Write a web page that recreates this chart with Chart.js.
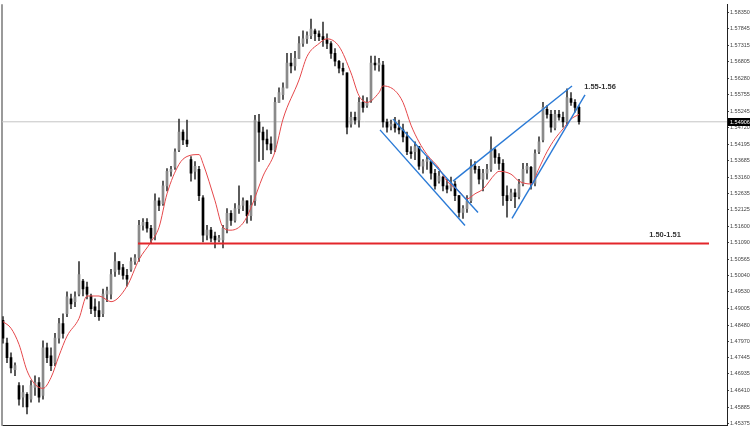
<!DOCTYPE html>
<html><head><meta charset="utf-8">
<script src="https://cdn.jsdelivr.net/npm/chart.js@4/dist/chart.umd.min.js"></script>
<style>html,body{margin:0;padding:0;background:#fff;overflow:hidden}</style>
</head><body><canvas id="c" width="750" height="430"></canvas>
<script>
// ---- data (bar index -> price) ----
const opens=[1.4863,1.4791,1.4745,1.4707,1.4657,1.4620,1.4629,1.4614,1.4651,1.4666,
1.4626,1.4776,1.4751,1.4729,1.4807,1.4853,1.4884,1.4931,1.4922,1.4946,
1.4987,1.4968,1.4940,1.4906,1.4894,1.4884,1.4946,1.4946,1.5018,1.5049,
1.5030,1.5005,1.5024,1.5049,1.5061,1.5163,1.5173,1.5154,1.5132,1.5241,
1.5232,1.5288,1.5334,1.5347,1.5402,1.5458,1.5433,1.5371,1.5334,1.5340,
1.5250,1.5132,1.5148,1.5129,1.5117,1.5117,1.5154,1.5201,1.5179,1.5216,
1.5226,1.5241,1.5194,1.5241,1.5490,1.5458,1.5436,1.5421,1.5402,1.5552,
1.5576,1.5598,1.5676,1.5667,1.5691,1.5738,1.5753,1.5763,1.5778,1.5769,
1.5760,1.5750,1.5738,1.5707,1.5682,1.5660,1.5645,1.5483,1.5505,1.5496,
1.5552,1.5542,1.5558,1.5676,1.5670,1.5670,1.5490,1.5477,1.5483,1.5471,
1.5465,1.5443,1.5396,1.5396,1.5412,1.5350,1.5365,1.5365,1.5328,1.5303,
1.5316,1.5288,1.5281,1.5294,1.5257,1.5204,1.5216,1.5241,1.5350,1.5340,
1.5309,1.5328,1.5340,1.5402,1.5378,1.5359,1.5257,1.5247,1.5266,1.5254,
1.5294,1.5340,1.5347,1.5297,1.5396,1.5433,1.5530,1.5514,1.5471,1.5514,
1.5505,1.5490,1.5564,1.5552,1.5536];
const highs=[1.4875,1.4807,1.4760,1.4729,1.4666,1.4657,1.4635,1.4673,1.4688,1.4682,
1.4798,1.4791,1.4776,1.4822,1.4869,1.4884,1.4953,1.4946,1.4953,1.5049,
1.4993,1.4984,1.4946,1.4931,1.4922,1.4962,1.4968,1.5024,1.5077,1.5049,
1.5040,1.5024,1.5061,1.5071,1.5179,1.5185,1.5185,1.5163,1.5263,1.5250,
1.5303,1.5343,1.5350,1.5405,1.5499,1.5465,1.5496,1.5381,1.5365,1.5350,
1.5257,1.5163,1.5157,1.5142,1.5132,1.5163,1.5216,1.5210,1.5232,1.5288,
1.5250,1.5241,1.5257,1.5511,1.5514,1.5474,1.5465,1.5443,1.5567,1.5598,
1.5614,1.5707,1.5707,1.5713,1.5760,1.5778,1.5775,1.5815,1.5784,1.5778,
1.5806,1.5769,1.5744,1.5722,1.5685,1.5676,1.5645,1.5521,1.5521,1.5567,
1.5573,1.5567,1.5698,1.5698,1.5691,1.5682,1.5499,1.5496,1.5505,1.5496,
1.5483,1.5458,1.5412,1.5427,1.5412,1.5371,1.5381,1.5365,1.5340,1.5334,
1.5319,1.5309,1.5316,1.5303,1.5257,1.5226,1.5257,1.5371,1.5365,1.5350,
1.5340,1.5356,1.5443,1.5406,1.5390,1.5371,1.5288,1.5278,1.5278,1.5309,
1.5359,1.5359,1.5350,1.5402,1.5443,1.5552,1.5542,1.5527,1.5527,1.5527,
1.5521,1.5595,1.5583,1.5561,1.5542];
const lows=[1.4791,1.4729,1.4697,1.4688,1.4595,1.4589,1.4567,1.4604,1.4626,1.4604,
1.4614,1.4729,1.4704,1.4720,1.4791,1.4807,1.4875,1.4900,1.4906,1.4940,
1.4940,1.4931,1.4884,1.4875,1.4863,1.4875,1.4922,1.4931,1.5002,1.5008,
1.4993,1.4971,1.5018,1.5040,1.5049,1.5148,1.5142,1.5108,1.5117,1.5210,
1.5226,1.5272,1.5319,1.5340,1.5396,1.5418,1.5412,1.5303,1.5309,1.5241,
1.5111,1.5117,1.5111,1.5092,1.5111,1.5092,1.5139,1.5163,1.5173,1.5201,
1.5210,1.5170,1.5179,1.5226,1.5365,1.5371,1.5402,1.5390,1.5396,1.5552,
1.5561,1.5598,1.5645,1.5654,1.5691,1.5729,1.5738,1.5753,1.5747,1.5747,
1.5729,1.5722,1.5691,1.5667,1.5645,1.5639,1.5452,1.5474,1.5483,1.5474,
1.5521,1.5536,1.5552,1.5654,1.5651,1.5474,1.5458,1.5465,1.5458,1.5452,
1.5427,1.5387,1.5375,1.5371,1.5340,1.5328,1.5340,1.5309,1.5278,1.5297,
1.5272,1.5266,1.5272,1.5241,1.5189,1.5185,1.5204,1.5235,1.5328,1.5294,
1.5272,1.5309,1.5334,1.5359,1.5340,1.5226,1.5189,1.5241,1.5219,1.5247,
1.5288,1.5328,1.5278,1.5288,1.5390,1.5427,1.5502,1.5458,1.5465,1.5496,
1.5474,1.5480,1.5542,1.5521,1.5483];
const closes=[1.4807,1.4745,1.4713,1.4720,1.4614,1.4635,1.4589,1.4657,1.4666,1.4620,
1.4776,1.4745,1.4720,1.4807,1.4853,1.4822,1.4937,1.4915,1.4937,1.5008,
1.4962,1.4946,1.4900,1.4894,1.4875,1.4946,1.4956,1.5008,1.5049,1.5024,
1.5005,1.4993,1.5049,1.5061,1.5163,1.5173,1.5154,1.5123,1.5241,1.5226,
1.5288,1.5334,1.5340,1.5396,1.5458,1.5433,1.5421,1.5328,1.5350,1.5257,
1.5132,1.5148,1.5123,1.5117,1.5123,1.5154,1.5201,1.5179,1.5216,1.5226,
1.5241,1.5194,1.5226,1.5496,1.5458,1.5433,1.5421,1.5402,1.5552,1.5583,
1.5598,1.5676,1.5667,1.5691,1.5738,1.5753,1.5763,1.5784,1.5769,1.5760,
1.5750,1.5738,1.5707,1.5682,1.5660,1.5651,1.5474,1.5505,1.5496,1.5552,
1.5536,1.5552,1.5676,1.5670,1.5676,1.5490,1.5474,1.5483,1.5471,1.5465,
1.5443,1.5396,1.5390,1.5412,1.5350,1.5365,1.5371,1.5328,1.5288,1.5319,
1.5288,1.5278,1.5297,1.5257,1.5204,1.5216,1.5241,1.5350,1.5340,1.5309,
1.5328,1.5340,1.5402,1.5378,1.5359,1.5257,1.5241,1.5266,1.5254,1.5294,
1.5340,1.5350,1.5297,1.5390,1.5427,1.5536,1.5514,1.5474,1.5514,1.5505,
1.5490,1.5567,1.5552,1.5536,1.5491];

// red moving average
const maIndex=[0,2,4,6,8,10,12,14,16,19,21,24,27,31,34,37,39,41,44,46,49,50,53,55,57,60,62,65,68,70,74,76,79,81,84,87,89,91,94,95,98,100,102,104,106,109,111,114,116,118,120,123,124,127,129,132,134,136,138,140,142,144];
const maValues=[1.4859,1.4838,1.4787,1.4704,1.4661,1.4648,1.4682,1.4751,1.4813,1.4869,1.4940,1.4940,1.4922,1.4971,1.5055,1.5111,1.5157,1.5263,1.5356,1.5381,1.5387,1.5359,1.5241,1.5157,1.5148,1.5170,1.5219,1.5319,1.5396,1.5499,1.5623,1.5697,1.5738,1.5753,1.5729,1.5645,1.5573,1.5552,1.5583,1.5604,1.5589,1.5552,1.5480,1.5427,1.5387,1.5344,1.5303,1.5272,1.5247,1.5263,1.5278,1.5325,1.5334,1.5325,1.5303,1.5294,1.5344,1.5396,1.5437,1.5468,1.5499,1.5514];

// blue trend lines (two anchor points each: bar index, price)
const channelLowX=[94.25,115.5],  channelLowY=[1.5465,1.5163];
const channelHighX=[97.5,118.75], channelHighY=[1.5499,1.5204];
const wedgeTopX=[112.5,142.25],   wedgeTopY=[1.5303,1.5604];
const wedgeBotX=[127.25,145.5],   wedgeBotY=[1.5185,1.5576];
// red support line
const supportX=[33.75,176.5], supportLevel=1.5106;
// current price
const lastPrice=1.54906;
// axis tick labels
const tickValues=[1.58350,1.57845,1.57315,1.56805,1.56280,1.55755,1.55245,1.54720,1.54195,1.53685,1.53160,1.52635,1.52125,1.51600,1.51090,1.50565,1.50040,1.49530,1.49005,1.48480,1.47970,1.47445,1.46935,1.46410,1.45885,1.45375];
// annotations
const noteTexts=['1.55-1.56','1.50-1.51'];
const noteX=[149.25,165.5];
const noteY=[1.5601,1.5133];

const xMin=-0.25, xMax=181, yMin=1.4530, yMax=1.5862;

const idx=opens.map((_,i)=>i);
const pts=(xs,ys)=>xs.map((x,i)=>({x,y:ys[i]}));
const FONT='"Liberation Sans", Arial, sans-serif';

const annot={
  id:'annot',
  beforeDatasetsDraw(chart){
    const {ctx,chartArea:a}=chart;
    ctx.save();
    ctx.strokeStyle='#9a9a9a';ctx.lineWidth=2;
    ctx.beginPath();ctx.moveTo(a.left,a.top);ctx.lineTo(a.left,a.bottom);ctx.stroke();
    ctx.restore();
  },
  afterDraw(chart){
    const {ctx,chartArea:a,scales:{x,y}}=chart;
    ctx.save();
    ctx.font='bold 7.5px '+FONT;
    ctx.fillStyle='#333';ctx.textAlign='center';ctx.textBaseline='middle';
    noteTexts.forEach((t,i)=>ctx.fillText(t,x.getPixelForValue(noteX[i]),y.getPixelForValue(noteY[i])));
    const py=y.getPixelForValue(lastPrice);
    ctx.fillStyle='#000';
    ctx.fillRect(a.right+1,Math.round(py)-4,chart.width-a.right-1,8);
    ctx.fillStyle='#fff';ctx.font='5.5px '+FONT;
    ctx.textAlign='left';
    ctx.fillText(lastPrice.toFixed(5),a.right+3,Math.round(py));
    ctx.restore();
  }
};

new Chart(document.getElementById('c'),{
  type:'bar',
  data:{datasets:[
    {type:'line',data:[{x:xMin,y:lastPrice},{x:xMax,y:lastPrice}],borderColor:'#c4c4c4',borderWidth:1,pointRadius:0,order:6},
    {type:'bar',data:idx.map(i=>({x:i,y:[lows[i],highs[i]]})),backgroundColor:'#3a3a3a',barThickness:1,grouped:false,order:5},
    {type:'bar',data:idx.map(i=>({x:i,y:[opens[i],closes[i]]})),
      backgroundColor:idx.map(i=>closes[i]>=opens[i]?'#8a8a8a':'#000'),barThickness:2,grouped:false,order:4},
    {type:'line',data:pts(maIndex,maValues),borderColor:'#e5484b',borderWidth:1,pointRadius:0,cubicInterpolationMode:'monotone',order:3},
    {type:'line',data:[{x:supportX[0],y:supportLevel},{x:supportX[1],y:supportLevel}],borderColor:'#e3262b',borderWidth:2,pointRadius:0,order:2},
    {type:'line',data:pts(channelLowX,channelLowY),borderColor:'#2a7ad6',borderWidth:1.4,pointRadius:0,order:1},
    {type:'line',data:pts(channelHighX,channelHighY),borderColor:'#2a7ad6',borderWidth:1.4,pointRadius:0,order:1},
    {type:'line',data:pts(wedgeTopX,wedgeTopY),borderColor:'#2a7ad6',borderWidth:1.4,pointRadius:0,order:1},
    {type:'line',data:pts(wedgeBotX,wedgeBotY),borderColor:'#2a7ad6',borderWidth:1.4,pointRadius:0,order:1}
  ]},
  options:{
    responsive:false,animation:false,devicePixelRatio:1,
    layout:{padding:{left:2,top:0,right:0,bottom:0}},
    plugins:{legend:{display:false},tooltip:{enabled:false}},
    scales:{
      x:{type:'linear',min:xMin,max:xMax,offset:false,
        grid:{display:false,drawTicks:false},ticks:{display:false},
        border:{display:true,color:'#222'},
        afterFit:s=>{s.height=1;}},
      y:{position:'right',min:yMin,max:yMax,beginAtZero:false,
        grid:{drawOnChartArea:false,drawTicks:true,tickLength:2,color:'#444'},
        border:{color:'#222'},
        ticks:{autoSkip:false,padding:1,color:'#444',font:{size:5.5,family:FONT},
          callback:v=>Number(v).toFixed(5)},
        afterBuildTicks:s=>{s.ticks=tickValues.map(v=>({value:v}));},
        afterFit:s=>{s.width=23;}}
    }
  },
  plugins:[annot]
});
</script></body></html>
